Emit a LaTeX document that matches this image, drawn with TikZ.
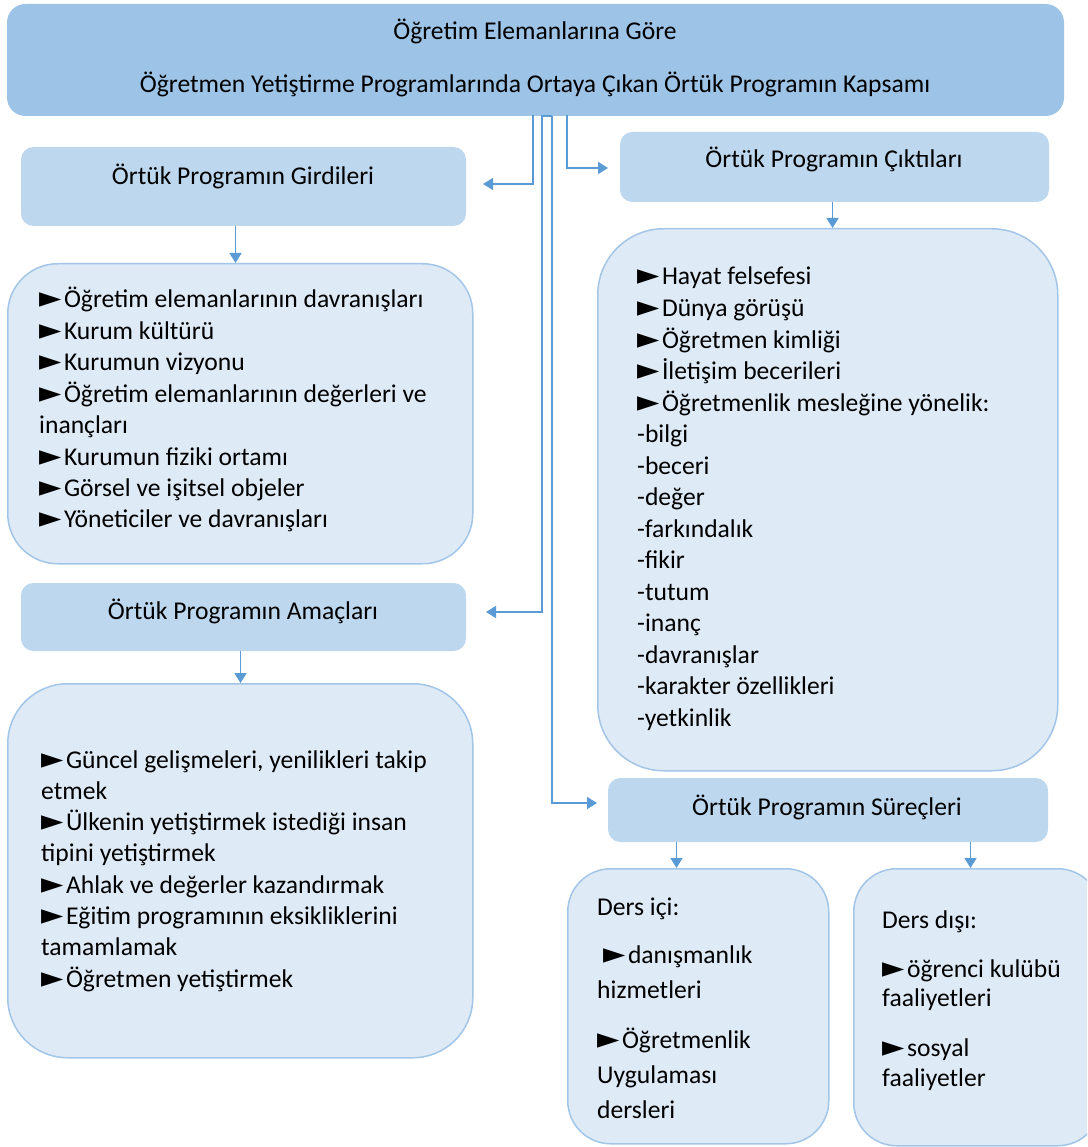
\documentclass[tikz,border=0pt]{standalone}
\usepackage{fontspec}
\setmainfont{Carlito}
\newfontfamily\dejavu{DejaVu Sans}
\usetikzlibrary{arrows.meta}
\definecolor{topfill}{HTML}{9DC3E6}
\definecolor{hdrfill}{HTML}{BDD7EE}
\definecolor{boxfill}{HTML}{DEEBF7}
\definecolor{boxline}{HTML}{A2C5E8}
\definecolor{arrline}{HTML}{5B9BD5}
\newcommand\tri{{\dejavu\fontsize{29}{31}\selectfont ►}\hspace{2.5pt}}
\newcommand\fs{\fontsize{25.6}{31.4}\selectfont}
\newcommand\btext[2]{\parbox[t]{460pt}{\fontsize{25.6}{#1}\selectfont #2}}
\tikzset{
  topbox/.style={draw=topfill, fill=topfill, rounded corners=18pt, line width=1pt, inner sep=0pt, anchor=north west},
  hdrbox/.style={draw=hdrfill, fill=hdrfill, rounded corners=12pt, line width=1pt, inner sep=0pt, anchor=north west},
  cbox/.style={draw=boxline, fill=boxfill, line width=1.5pt, inner sep=0pt, anchor=north west},
  lbl/.style={inner sep=0pt, anchor=base, font=\fs},
  body/.style={inner sep=0pt, anchor=base west, font=\fs},
  arr/.style={draw=arrline, line width=1.6pt, -{Triangle[width=12pt,length=10pt]}},
  link/.style={draw=arrline, line width=1.6pt},
}
\begin{document}
\begin{tikzpicture}[x=1pt,y=-1pt]
\useasboundingbox (0,0) rectangle (1087,1147);
\clip (0,0) rectangle (1087,1147);

% boxes
\node[topbox, minimum width=1056pt, minimum height=111pt] (top) at (7,4) {};
\node[hdrbox, minimum width=444pt, minimum height=78pt] (girB) at (21,147) {};
\node[cbox, rounded corners=50pt, minimum width=465pt, minimum height=300pt] (girC) at (7,263) {};
\node[hdrbox, minimum width=444pt, minimum height=67pt] (amaB) at (21,583) {};
\node[cbox, rounded corners=60pt, minimum width=465pt, minimum height=374pt] (amaC) at (7,683) {};
\node[hdrbox, minimum width=428pt, minimum height=69pt] (cikB) at (620,132) {};
\node[cbox, rounded corners=66pt, minimum width=460pt, minimum height=542pt] (cikC) at (597,228) {};
\node[hdrbox, minimum width=439pt, minimum height=63pt] (surB) at (608,778) {};
\node[cbox, rounded corners=43pt, minimum width=261pt, minimum height=275pt] (icC) at (567,868) {};
\node[cbox, rounded corners=43pt, minimum width=247pt, minimum height=277pt] (disC) at (853,868) {};

% titles
\node[lbl] (t1) at (535,40) {Öğretim Elemanlarına Göre};
\node[lbl] (t2) at (535,93) {Öğretmen Yetiştirme Programlarında Ortaya Çıkan Örtük Programın Kapsamı};
\node[lbl] (girT) at (243,185) {Örtük Programın Girdileri};
\node[lbl] (amaT) at (243,619) {Örtük Programın Amaçları};
\node[lbl] (cikT) at (834,168) {Örtük Programın Çıktıları};
\node[lbl] (surT) at (827,815) {Örtük Programın Süreçleri};

% bodies
\node[body] (girX) at (39,308) {\btext{31.4pt}{%
\tri Öğretim elemanlarının davranışları\\
\tri Kurum kültürü\\
\tri Kurumun vizyonu\\
\tri Öğretim elemanlarının değerleri ve\\
inançları\\
\tri Kurumun fiziki ortamı\\
\tri Görsel ve işitsel objeler\\
\tri Yöneticiler ve davranışları}};

\node[body] (amaX) at (41,768) {\btext{31.3pt}{%
\tri Güncel gelişmeleri, yenilikleri takip\\
etmek\\
\tri Ülkenin yetiştirmek istediği insan\\
tipini yetiştirmek\\
\tri Ahlak ve değerler kazandırmak\\
\tri Eğitim programının eksikliklerini\\
tamamlamak\\
\tri Öğretmen yetiştirmek}};

\node[body] (cikX) at (637,285) {\btext{31.5pt}{%
\tri Hayat felsefesi\\
\tri Dünya görüşü\\
\tri Öğretmen kimliği\\
\tri İletişim becerileri\\
\tri Öğretmenlik mesleğine yönelik:\\
-bilgi\\
-beceri\\
-değer\\
-farkındalık\\
-fikir\\
-tutum\\
-inanç\\
-davranışlar\\
-karakter özellikleri\\
-yetkinlik}};

\node[body] (icX) at (597,915) {\btext{35pt}{%
Ders içi:\\[13pt]
\hspace*{6pt}\tri danışmanlık\\
hizmetleri\\[15pt]
\tri Öğretmenlik\\
Uygulaması\\
dersleri}};

\node[body] (disX) at (882,928) {\btext{29.5pt}{%
Ders dışı:\\[19.5pt]
\tri öğrenci kulübü\\
faaliyetleri\\[20.5pt]
\tri sosyal\\
faaliyetler}};

% connector points
\coordinate (sA) at (533,115);
\coordinate (tA) at (483,184);
\coordinate (sB) at (542,115);
\coordinate (tB) at (486,612);
\coordinate (sC) at (552,116);
\coordinate (tC) at (597,803);
\coordinate (sD) at (567,115);
\coordinate (tD) at (608,168);

\draw[arr] (sA) |- (tA);
\draw[arr] (sB) |- (tB);
\draw[link] (sB |- sC) -- (sC);
\draw[arr] (sC) |- (tC);
\draw[arr] (sD) |- (tD);

\draw[arr] ([xshift=-8pt]girB.south) -- ([xshift=-8pt]girB.south |- girC.north);
\draw[arr] ([xshift=-3pt]amaB.south) -- ([xshift=-3pt]amaB.south |- amaC.north);
\draw[arr] ([xshift=-2pt]cikB.south) -- ([xshift=-2pt]cikB.south |- cikC.north);
\draw[arr] ([xshift=-151.5pt]surB.south) -- ([xshift=-151.5pt]surB.south |- icC.north);
\draw[arr] ([xshift=142.5pt]surB.south) -- ([xshift=142.5pt]surB.south |- disC.north);
\end{tikzpicture}
\end{document}
